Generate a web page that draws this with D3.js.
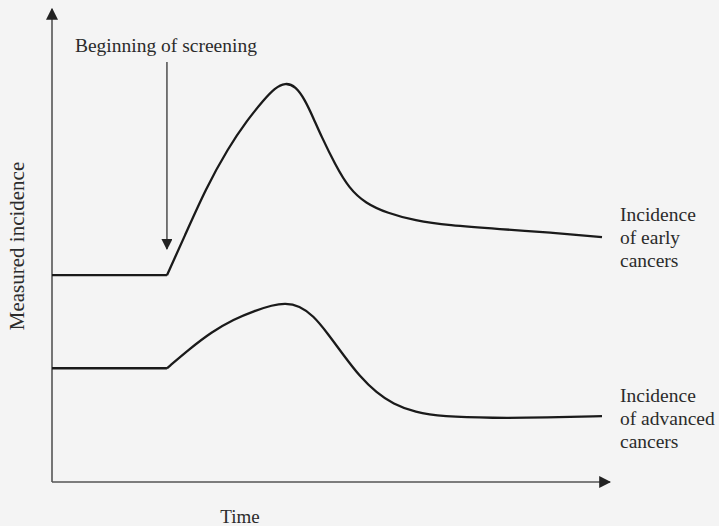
<!DOCTYPE html>
<html>
<head>
<meta charset="utf-8">
<script src="https://cdn.jsdelivr.net/npm/d3@7/dist/d3.min.js"></script>
<style>
  html, body { margin: 0; padding: 0; background: #f4f4f4; }
  svg { display: block; }
  text { font-family: "Liberation Serif", "Times New Roman", serif; fill: #2b2b2b; }
</style>
</head>
<body>
<svg id="chart" width="719" height="526"></svg>
<script>
// ---- data (time 0..100, incidence 0..100, arbitrary units) ----
const screeningStart = 20.9;
const earlyTime  = [0, 20.9, 24, 28, 32, 35.5, 38.5, 40.5, 42.4, 44.3, 46, 47.5, 49, 51.5, 54, 57, 61, 66, 72, 81.5, 90.5, 100];
const earlyValue = [44, 44, 52, 62.5, 71, 77, 81.3, 83.8, 85.0, 84.2, 81.3, 77.5, 73.5, 67.5, 62.5, 59.3, 57.2, 55.6, 54.6, 53.8, 53.1, 52.1];
const advTime    = [0, 20.9, 25, 29, 33, 37, 40, 42.4, 45, 47.5, 50, 53, 56, 59, 62, 66, 71, 80, 90, 100];
const advValue   = [24.2, 24.2, 28.3, 31.9, 34.6, 36.5, 37.6, 38.1, 37.5, 35.4, 31.8, 27, 22.4, 19, 16.6, 14.8, 13.9, 13.6, 13.7, 14];
const seriesLabels = [["Incidence", "of early", "cancers"], ["Incidence", "of advanced", "cancers"]];
const annotation = "Beginning of screening";
const xTitle = "Time";
const yTitle = "Measured incidence";

const svg = d3.select("#chart");
const x = d3.scaleLinear().domain([0, 100]).range([52, 602]);
const y = d3.scaleLinear().domain([0, 100]).range([482, 12]);

// axes with arrowheads
const axisColor = "#555";
const defs = svg.append("defs");
defs.append("marker").attr("id", "axArrow").attr("viewBox", "0 0 10 10")
  .attr("refX", 9).attr("refY", 5).attr("markerWidth", 12).attr("markerHeight", 12)
  .attr("markerUnits", "userSpaceOnUse").attr("orient", "auto")
  .append("path").attr("d", "M0,0 L10,5 L0,10 Z").attr("fill", "#222");
defs.append("marker").attr("id", "annArrow").attr("viewBox", "0 0 10 10")
  .attr("refX", 9).attr("refY", 5).attr("markerWidth", 13).attr("markerHeight", 11)
  .attr("markerUnits", "userSpaceOnUse").attr("orient", "auto")
  .append("path").attr("d", "M0,0 L10,5 L0,10 Z").attr("fill", "#222");

svg.append("line").attr("x1", x(0)).attr("y1", y(0)).attr("x2", x(0)).attr("y2", y(100) - 3)
  .attr("stroke", axisColor).attr("stroke-width", 1.6).attr("marker-end", "url(#axArrow)");
svg.append("line").attr("x1", x(0)).attr("y1", y(0)).attr("x2", x(100) + 8).attr("y2", y(0))
  .attr("stroke", axisColor).attr("stroke-width", 1.6).attr("marker-end", "url(#axArrow)");

// curves: flat part linear (sharp kink at screening start), rest smooth
function drawSeries(ts, vs) {
  const pts = ts.map((t, i) => [t, vs[i]]);
  const k = ts.indexOf(screeningStart);
  const flat = pts.slice(0, k + 1);
  const rest = pts.slice(k);
  svg.append("path").datum(flat)
    .attr("d", d3.line().x(d => x(d[0])).y(d => y(d[1])).curve(d3.curveLinear))
    .attr("fill", "none").attr("stroke", "#1a1a1a").attr("stroke-width", 2.3);
  svg.append("path").datum(rest)
    .attr("d", d3.line().x(d => x(d[0])).y(d => y(d[1])).curve(d3.curveBasis))
    .attr("fill", "none").attr("stroke", "#1a1a1a").attr("stroke-width", 2.3)
    .attr("stroke-linejoin", "round");
}
drawSeries(earlyTime, earlyValue);
drawSeries(advTime, advValue);

// annotation
svg.append("text").attr("x", x(screeningStart) - 92).attr("y", 52)
  .attr("font-size", 19.5).text(annotation);
svg.append("line").attr("x1", x(screeningStart)).attr("y1", 62)
  .attr("x2", x(screeningStart)).attr("y2", 249)
  .attr("stroke", "#333").attr("stroke-width", 1.3).attr("marker-end", "url(#annArrow)");

// series labels
const labelTops = [y(earlyValue[earlyValue.length - 1]) - 16, y(advValue[advValue.length - 1]) - 14];
seriesLabels.forEach((lines, i) => {
  const t = svg.append("text").attr("x", 620).attr("y", labelTops[i]).attr("font-size", 19.5);
  lines.forEach((l, j) => t.append("tspan").attr("x", 620).attr("dy", j === 0 ? 0 : 23).text(l));
});

// axis titles
svg.append("text").attr("x", 240).attr("y", 523).attr("text-anchor", "middle")
  .attr("font-size", 19).text(xTitle);
svg.append("text").attr("transform", "translate(24,246) rotate(-90)")
  .attr("text-anchor", "middle").attr("font-size", 21).text(yTitle);
</script>
</body>
</html>
